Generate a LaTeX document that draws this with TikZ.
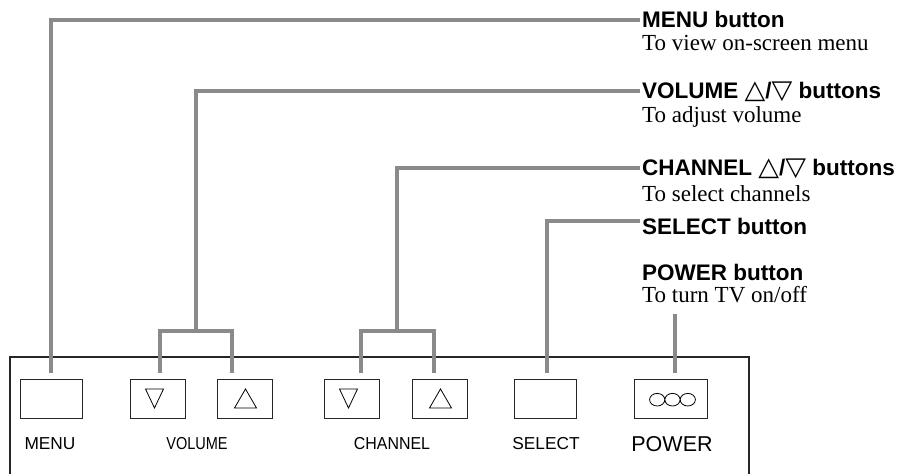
\documentclass[tikz,border=0pt]{standalone}
\usepackage{fontspec}
\usepackage{graphicx}
\setmainfont{Liberation Serif}
\setsansfont{Liberation Sans}
\newfontfamily\symfont{DejaVu Sans}
\definecolor{leadgray}{RGB}{138,138,138}
\tikzset{
  leader/.style={draw=leadgray, line width=3.6pt},
  btn/.style={draw=black!85, line width=0.9pt, minimum height=39pt, inner sep=0pt},
  plabel/.style={font=\sffamily\fontsize{17.3}{19}\selectfont, inner sep=0pt},
  hdr/.style={font=\sffamily\bfseries\fontsize{22.5}{24}\selectfont, anchor=west, inner xsep=2pt, inner ysep=0pt, text height=15.8pt, text depth=0pt},
  sub/.style={font=\rmfamily\fontsize{23}{25}\selectfont, anchor=base west, inner sep=0pt},
}
\newcommand{\uparr}{\scalebox{1.2}[1.15]{\symfont\mdseries △}}
\newcommand{\dnarr}{\scalebox{1.2}[1.15]{\symfont\mdseries ▽}}

\begin{document}
\begin{tikzpicture}[x=1pt,y=1pt]
\useasboundingbox (0,0) rectangle (914,474);
% front panel
\draw[line width=1.2pt, black!85] (10,0) -- (10,117) -- (749,117) -- (749,0);
% buttons
\node[btn, minimum width=62pt] (menu) at (51,75.5) {};
\node[btn, minimum width=55pt] (voldn) at (157.5,75.5) {};
\node[btn, minimum width=55pt] (volup) at (244.5,75.5) {};
\node[btn, minimum width=55pt] (chdn) at (351.5,75.5) {};
\node[btn, minimum width=55pt] (chup) at (439.5,75.5) {};
\node[btn, minimum width=62pt] (select) at (545,75.5) {};
\node[btn, minimum width=73pt] (power) at (670.5,75.5) {};
% symbols on the buttons
\draw[line width=0.8pt] (voldn) ++(-12,9.5) -- ++(18,0) -- ++(-9,-19) -- cycle;
\draw[line width=0.8pt] (volup) ++(-10,-9.5) -- ++(22,0) -- ++(-11,19) -- cycle;
\draw[line width=0.8pt] (chdn) ++(-12,9.5) -- ++(18,0) -- ++(-9,-19) -- cycle;
\draw[line width=0.8pt] (chup) ++(-10,-9.5) -- ++(22,0) -- ++(-11,19) -- cycle;
\draw[line width=0.8pt] (power) ++(-13.3,-1.2) ellipse (7.6 and 6.3) ++(15.3,0) ellipse (7.6 and 6.3) ++(15.3,0) ellipse (7.6 and 6.3);
% panel labels
\node[plabel] (menulbl) at (50,30) {MENU};
\node[plabel] (vollbl) at (197,30) {\scalebox{0.84}[1]{VOLUME}};
\node[plabel] (chlbl) at (392,30) {\scalebox{0.92}[1]{CHANNEL}};
\node[plabel] (sellbl) at (546,30) {SELECT};
\node[plabel, font=\sffamily\fontsize{21.5}{24}\selectfont] (pwrlbl) at (672,30) {POWER};
% callouts
\node[hdr] (hdmenu) at (640,454) {MENU button};
\node[sub] (submenu) at (642,423) {To view on-screen menu};
\node[hdr] (hdvol) at (640,383) {VOLUME \uparr/\dnarr{} buttons};
\node[sub] (subvol) at (642,351) {To adjust volume};
\node[hdr] (hdch) at (640,306) {CHANNEL \uparr/\dnarr{} buttons};
\node[sub] (subch) at (642,272) {To select channels};
\node[hdr] (hdsel) at (640,247.5) {SELECT button};
\node[hdr, anchor=base west] (hdpwr) at (640,193) {POWER button};
\node[sub] (subpwr) at (642,171) {To turn TV on/off};
% leader lines
\coordinate (volbr) at (196,143);
\coordinate (chbr) at (397,143);
\coordinate (pwrtop) at (675,160);
\draw[leader] ([yshift=6pt]menu.north) |- (hdmenu.west);
\draw[leader] ([xshift=2.5pt,yshift=6pt]voldn.north) |- (volbr) -| ([xshift=-12.5pt,yshift=6pt]volup.north);
\draw[leader] (volbr) |- (hdvol.west);
\draw[leader] ([xshift=9.5pt,yshift=6pt]chdn.north) |- (chbr) -| ([xshift=-5.5pt,yshift=6pt]chup.north);
\draw[leader] (chbr) |- (hdch.west);
\draw[leader] ([xshift=2pt,yshift=6pt]select.north) |- ([yshift=5.5pt]hdsel.west);
\draw[leader] ([xshift=4.5pt,yshift=6pt]power.north) -- (pwrtop);
\end{tikzpicture}
\end{document}
